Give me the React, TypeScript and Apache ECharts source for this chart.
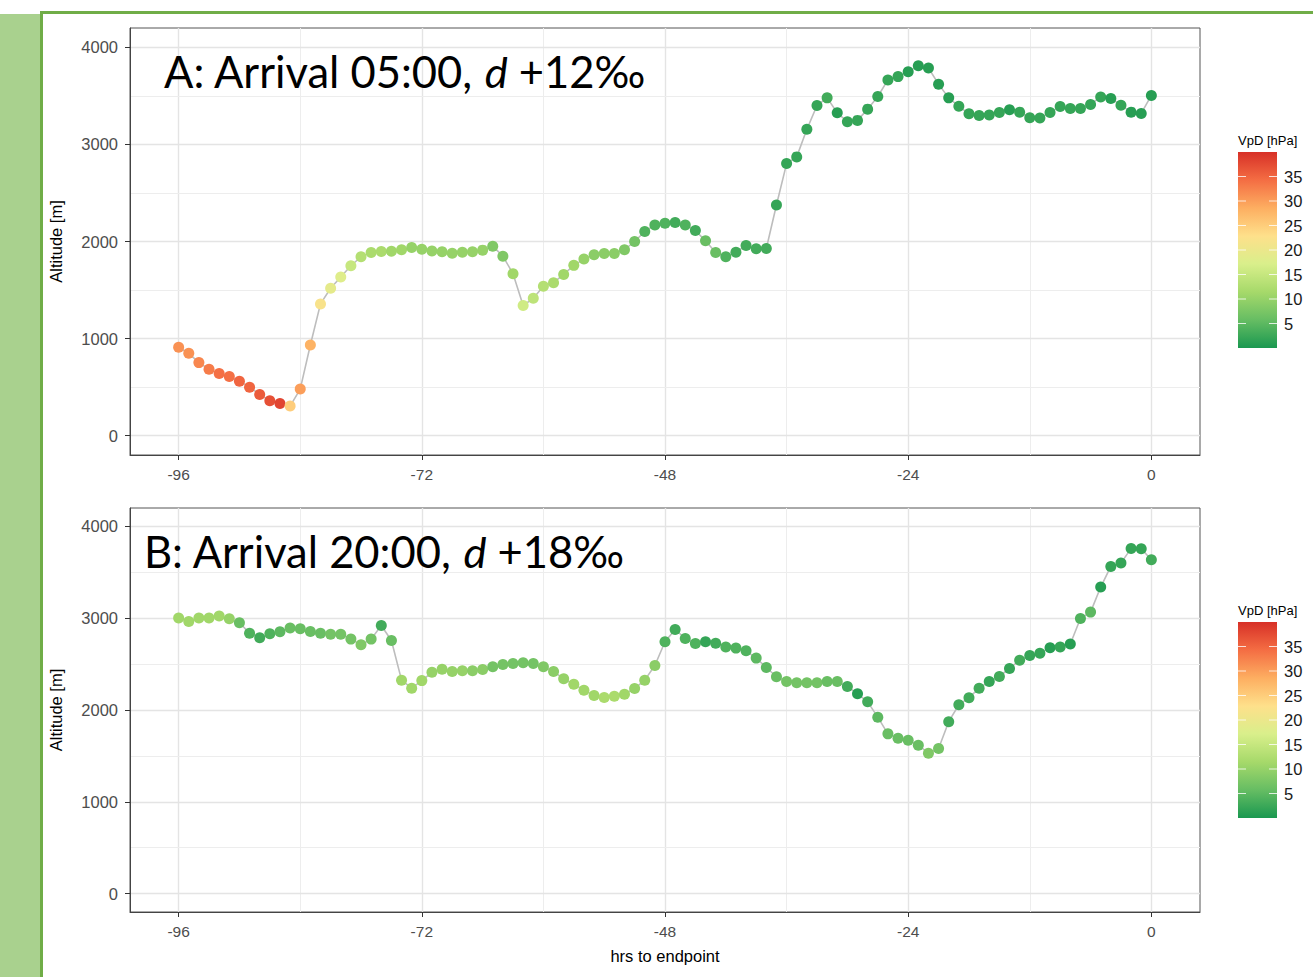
import React, { useEffect, useRef } from "react";
import * as echarts from "echarts";

const hours = [-96, -95, -94, -93, -92, -91, -90, -89, -88, -87, -86, -85, -84, -83, -82, -81, -80, -79, -78, -77, -76, -75, -74, -73, -72, -71, -70, -69, -68, -67, -66, -65, -64, -63, -62, -61, -60, -59, -58, -57, -56, -55, -54, -53, -52, -51, -50, -49, -48, -47, -46, -45, -44, -43, -42, -41, -40, -39, -38, -37, -36, -35, -34, -33, -32, -31, -30, -29, -28, -27, -26, -25, -24, -23, -22, -21, -20, -19, -18, -17, -16, -15, -14, -13, -12, -11, -10, -9, -8, -7, -6, -5, -4, -3, -2, -1, 0];

const altA = [
  910, 848, 752, 684, 639, 608, 561, 499, 424, 359,
  331, 304, 479, 933, 1357, 1518, 1634, 1750, 1843, 1887,
  1897, 1900, 1915, 1938, 1920, 1903, 1894, 1880, 1890, 1894,
  1911, 1952, 1849, 1668, 1340, 1415, 1538, 1576, 1661, 1754,
  1819, 1863, 1877, 1877, 1915, 2000, 2103, 2171, 2188, 2195,
  2171, 2113, 2007, 1887, 1843, 1890, 1959, 1925, 1928, 2376,
  2803, 2872, 3156, 3402, 3480, 3326, 3234, 3248, 3364, 3494,
  3665, 3699, 3750, 3810, 3788, 3621, 3480, 3393, 3316, 3299,
  3303, 3330, 3357, 3333, 3275, 3272, 3330, 3391, 3371, 3371,
  3412, 3490, 3474, 3405, 3333, 3320, 3505,
];
const vpdA = [
  31, 31, 32, 33, 34, 34, 35, 35, 36, 37,
  38, 25, 30, 28, 22, 19, 18, 15, 13, 12,
  12, 11, 11, 10, 10, 10, 10, 10, 10, 10,
  10, 8, 8, 11, 16, 14, 13, 12, 11, 11,
  10, 9, 9, 9, 8, 7, 4, 4, 4, 3,
  4, 3, 6, 6, 4, 3, 3, 3, 3, 2,
  2, 2, 2, 2, 3, 1, 2, 2, 2, 2,
  2, 2, 1, 1, 1, 1, 1, 2, 2, 2,
  2, 2, 1, 2, 2, 2, 2, 2, 2, 2,
  2, 2, 1, 2, 1, 1, 1,
];
const altB = [
  3001, 2965, 3001, 3001, 3023, 2994, 2950, 2837, 2787, 2830,
  2852, 2892, 2885, 2856, 2837, 2826, 2826, 2772, 2710, 2772,
  2921, 2757, 2325, 2238, 2320, 2410, 2445, 2420, 2427, 2427,
  2441, 2471, 2496, 2507, 2514, 2507, 2471, 2420, 2340, 2281,
  2216, 2158, 2136, 2150, 2172, 2234, 2325, 2485, 2743, 2877,
  2779, 2725, 2743, 2728, 2685, 2674, 2645, 2565, 2463, 2362,
  2311, 2296, 2296, 2296, 2311, 2311, 2256, 2176, 2089, 1922,
  1740, 1693, 1671, 1617, 1529, 1580, 1873, 2057, 2133, 2238,
  2311, 2365, 2452, 2543, 2594, 2619, 2678, 2685, 2718, 2997,
  3066, 3339, 3564, 3600, 3760, 3757, 3637,
];
const vpdB = [
  11, 11, 11, 11, 11, 10, 6, 4, 3, 4,
  5, 6, 6, 6, 6, 7, 7, 7, 8, 7,
  3, 6, 11, 11, 11, 10, 10, 10, 10, 9,
  9, 7, 7, 7, 7, 7, 8, 9, 10, 11,
  11, 11, 12, 12, 11, 10, 10, 9, 4, 3,
  4, 4, 2, 3, 4, 4, 4, 5, 5, 6,
  7, 7, 7, 7, 6, 6, 3, 1, 3, 5,
  6, 6, 6, 6, 8, 7, 3, 3, 3, 3,
  2, 3, 2, 3, 2, 2, 1, 2, 1, 4,
  5, 1, 2, 2, 2, 2, 3,
];

const titles = [
  { lead: "A: Arrival 05:00, ", ital: "d", tail: " +12‰" },
  { lead: "B: Arrival 20:00, ", ital: "d", tail: " +18‰" },
];
const xTicks = [-96, -72, -48, -24, 0];
const xMinor = [-84, -60, -36, -12];
const yTicks = [0, 1000, 2000, 3000, 4000];
const yMinor = [500, 1500, 2500, 3500];
const legendTicks = [5, 10, 15, 20, 25, 30, 35];
const vpdMin = 0;
const vpdMax = 40;
const palette = ["#1a9850", "#66bd63", "#a6d96a", "#d9ef8b", "#fee08b", "#fdae61", "#f46d43", "#d73027"];

const FONT = "'Liberation Sans', Arial, sans-serif";
const TITLE_FONT = "Lato, 'Open Sans', sans-serif";

export default function App() {
  const ref = useRef<HTMLDivElement>(null);
  useEffect(() => {
    document.body.style.margin = "0";
    const chart = echarts.init(ref.current!, undefined, { renderer: "svg" });

    const panels = [
      { top: 28, height: 427, alt: altA, vpd: vpdA, legTop: 152, titleX: 164, titleY: 71, title: titles[0] },
      { top: 508, height: 404, alt: altB, vpd: vpdB, legTop: 622, titleX: 144, titleY: 551, title: titles[1] },
    ];

    const gridLines = [
      ...xTicks.map((v) => ({ xAxis: v, lineStyle: { color: "#e4e4e4", width: 1.4, type: "solid" } })),
      ...xMinor.map((v) => ({ xAxis: v, lineStyle: { color: "#ededed", width: 1, type: "solid" } })),
      ...yTicks.map((v) => ({ yAxis: v, lineStyle: { color: "#e4e4e4", width: 1.4, type: "solid" } })),
      ...yMinor.map((v) => ({ yAxis: v, lineStyle: { color: "#ededed", width: 1, type: "solid" } })),
    ];

    const grids = panels.map((p) => ({
      left: 130,
      top: p.top,
      width: 1070,
      height: p.height,
      show: true,
      borderColor: "#555",
      borderWidth: 1,
      backgroundColor: "#fff",
      containLabel: false,
    }));

    const xAxes = panels.map((p, i) => ({
      type: "value",
      gridIndex: i,
      min: -100.8,
      max: 4.8,
      name: i === 1 ? "hrs to endpoint" : "",
      nameLocation: "middle",
      nameGap: 35,
      nameTextStyle: { fontFamily: FONT, fontSize: 16.5, color: "#000" },
      axisLine: { show: true, onZero: false, lineStyle: { color: "#444", width: 1 } },
      axisTick: { show: true, length: 5, customValues: xTicks, lineStyle: { color: "#333" } },
      axisLabel: { customValues: xTicks, color: "#4d4d4d", fontFamily: FONT, fontSize: 15.5, margin: 11 },
      splitLine: { show: false },
    }));

    const yAxes = panels.map((p, i) => ({
      type: "value",
      gridIndex: i,
      min: -200,
      max: 4200,
      name: "Altitude [m]",
      nameLocation: "middle",
      nameGap: 66,
      nameRotate: 90,
      nameTextStyle: { fontFamily: FONT, fontSize: 16.5, color: "#000" },
      axisLine: { show: true, onZero: false, lineStyle: { color: "#444", width: 1 } },
      axisTick: { show: true, length: 5, customValues: yTicks, lineStyle: { color: "#333" } },
      axisLabel: {
        customValues: yTicks,
        color: "#4d4d4d",
        fontFamily: FONT,
        fontSize: 16.5,
        margin: 12,
        formatter: (v: number) => String(v),
      },
      splitLine: { show: false },
    }));

    const series: any[] = [];
    panels.forEach((p, i) => {
      series.push({
        type: "line",
        xAxisIndex: i,
        yAxisIndex: i,
        data: hours.map((h, k) => [h, p.alt[k]]),
        symbol: "none",
        lineStyle: { color: "#bdbdbd", width: 1.6 },
        z: 1,
        silent: true,
        markLine: {
          z: 0,
          silent: true,
          symbol: ["none", "none"],
          label: { show: false },
          animation: false,
          data: gridLines,
        },
      });
    });
    panels.forEach((p, i) => {
      series.push({
        type: "scatter",
        xAxisIndex: i,
        yAxisIndex: i,
        data: hours.map((h, k) => [h, p.alt[k], p.vpd[k]]),
        symbolSize: 11,
        z: 3,
        itemStyle: { opacity: 1 },
      });
    });

    const barX = 1238;
    const barW = 39;
    const barH = 196;
    const graphics: any[] = [
      { type: "rect", shape: { x: 0, y: 14, width: 40, height: 963 }, style: { fill: "#a9d18e" }, z: 10 },
      { type: "rect", shape: { x: 40, y: 11, width: 3, height: 966 }, style: { fill: "#70ad47" }, z: 10 },
      { type: "rect", shape: { x: 40, y: 11, width: 1273, height: 3 }, style: { fill: "#70ad47" }, z: 10 },
    ];
    const stops = palette
      .map((c, k) => ({ offset: 1 - k / (palette.length - 1), color: c }))
      .reverse();
    panels.forEach((p) => {
      graphics.push({
        type: "text",
        x: p.titleX,
        y: p.titleY,
        z: 10,
        style: {
          text: "{n|" + p.title.lead + "}{i|" + p.title.ital + "}{n|" + p.title.tail + "}",
          verticalAlign: "middle",
          rich: {
            n: { fontFamily: TITLE_FONT, fontSize: 43.5, fill: "#000" },
            i: { fontFamily: TITLE_FONT, fontSize: 43.5, fontStyle: "italic", fill: "#000" },
          },
        },
      });
      graphics.push({
        type: "text",
        x: barX,
        y: p.legTop - 12,
        z: 10,
        style: { text: "VpD [hPa]", fontFamily: FONT, fontSize: 13, fill: "#000", verticalAlign: "middle" },
      });
      graphics.push({
        type: "rect",
        z: 10,
        shape: { x: barX, y: p.legTop, width: barW, height: barH },
        style: {
          fill: { type: "linear", x: 0, y: 0, x2: 0, y2: 1, colorStops: stops },
        },
      });
      legendTicks.forEach((v) => {
        const y = p.legTop + (1 - (v - vpdMin) / (vpdMax - vpdMin)) * barH;
        graphics.push({ type: "line", z: 11, shape: { x1: barX, y1: y, x2: barX + 8, y2: y }, style: { stroke: "#ffffff", lineWidth: 1, opacity: 0.8 } });
        graphics.push({ type: "line", z: 11, shape: { x1: barX + barW - 8, y1: y, x2: barX + barW, y2: y }, style: { stroke: "#ffffff", lineWidth: 1, opacity: 0.8 } });
        graphics.push({
          type: "text",
          z: 11,
          x: barX + barW + 7,
          y,
          style: { text: String(v), fontFamily: FONT, fontSize: 16.5, fill: "#1a1a1a", verticalAlign: "middle" },
        });
      });
    });

    chart.setOption({
      animation: false,
      backgroundColor: "#fff",
      grid: grids,
      xAxis: xAxes,
      yAxis: yAxes,
      visualMap: [
        {
          type: "continuous",
          show: false,
          seriesIndex: [2, 3],
          dimension: 2,
          min: vpdMin,
          max: vpdMax,
          inRange: { color: palette },
        },
      ],
      series,
      graphic: graphics,
    });
    return () => chart.dispose();
  }, []);
  return <div ref={ref} style={{ width: 1313, height: 977 }} />;
}
